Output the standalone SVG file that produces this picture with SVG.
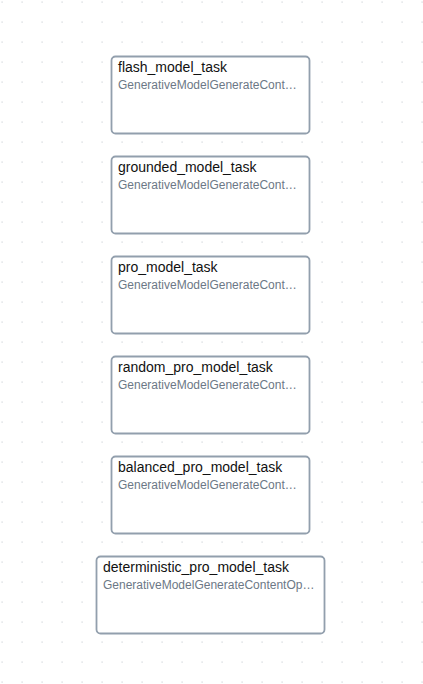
<svg xmlns="http://www.w3.org/2000/svg" width="423" height="684" viewBox="0 0 423 684">
<defs>
<pattern id="dots" x="0" y="0" width="20" height="20" patternUnits="userSpaceOnUse">
<rect x="1.5" y="1.5" width="1.2" height="1.2" fill="#cfd3d8"/>
</pattern>
<style>
.box{fill:#fff;stroke:#929fad;stroke-width:1.8}
.t{font-family:"Liberation Sans",Arial,sans-serif;font-size:14px;fill:#111}
.s{font-family:"Liberation Sans",Arial,sans-serif;font-size:12px;fill:#6c7886}
</style>
</defs>
<rect width="423" height="684" fill="#fff"/>
<rect width="423" height="684" fill="url(#dots)"/>
<g id="flash_model_task"><rect class="box" x="111.5" y="56.5" width="198" height="77" rx="4"/><text class="t" x="118" y="72">flash_model_task</text><text class="s" x="118" y="89">GenerativeModelGenerateCont…</text></g>
<g id="grounded_model_task"><rect class="box" x="111.5" y="156.5" width="198" height="77" rx="4"/><text class="t" x="118" y="172">grounded_model_task</text><text class="s" x="118" y="189">GenerativeModelGenerateCont…</text></g>
<g id="pro_model_task"><rect class="box" x="111.5" y="256.5" width="198" height="77" rx="4"/><text class="t" x="118" y="272">pro_model_task</text><text class="s" x="118" y="289">GenerativeModelGenerateCont…</text></g>
<g id="random_pro_model_task"><rect class="box" x="111.5" y="356.5" width="198" height="77" rx="4"/><text class="t" x="118" y="372">random_pro_model_task</text><text class="s" x="118" y="389">GenerativeModelGenerateCont…</text></g>
<g id="balanced_pro_model_task"><rect class="box" x="111.5" y="456.5" width="198" height="77" rx="4"/><text class="t" x="118" y="472">balanced_pro_model_task</text><text class="s" x="118" y="489">GenerativeModelGenerateCont…</text></g>
<g id="deterministic_pro_model_task"><rect class="box" x="96.5" y="556.5" width="228" height="77" rx="4"/><text class="t" x="103" y="572">deterministic_pro_model_task</text><text class="s" x="103" y="589">GenerativeModelGenerateContentOp…</text></g>
<g id="connectors"></g>
</svg>
